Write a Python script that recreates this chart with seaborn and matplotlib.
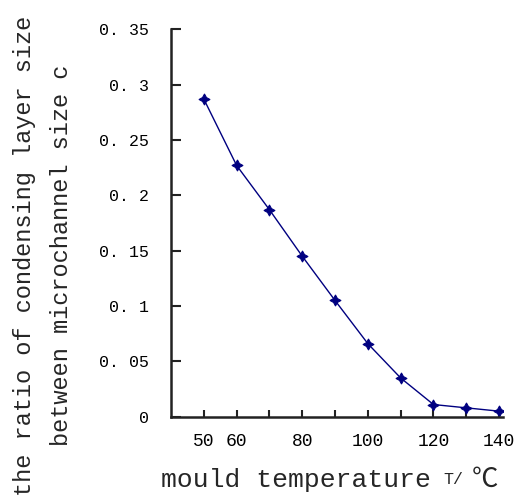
import matplotlib
matplotlib.use("Agg")
import matplotlib.pyplot as plt
import pandas as pd
import seaborn as sns

# mould temperature (°C) and ratio c
temperature = [50, 60, 70, 80, 90, 100, 110, 120, 130, 140]
ratio_c = [0.287, 0.227, 0.187, 0.145, 0.105, 0.066, 0.035, 0.011, 0.008, 0.005]

x_ticks = [50, 60, 70, 80, 90, 100, 110, 120, 130, 140]
x_tick_labels = ["50", "60", "", "80", "", "100", "", "120", "", "140"]
y_ticks = [0, 0.05, 0.1, 0.15, 0.2, 0.25, 0.3, 0.35]
y_tick_labels = ["0", "0. 05", "0. 1", "0. 15", "0. 2", "0. 25", "0. 3", "0. 35"]

sns.set_style("ticks")
plt.rcParams["font.family"] = ["Liberation Mono", "Noto Sans CJK SC"]

df = pd.DataFrame({"T": temperature, "c": ratio_c})

fig = plt.figure(figsize=(5.22, 5.0), dpi=100)
ax = fig.add_axes([0.3276, 0.1666, 0.636, 0.7748])

sns.lineplot(data=df, x="T", y="c", ax=ax, color="#000080", linewidth=1.0,
             marker=(4, 1, 0), markersize=8, markeredgecolor="#000080")

ax.set_xlim(40, 141.2)
ax.set_ylim(0, 0.35)
ax.set_xticks(x_ticks)
ax.set_xticklabels(x_tick_labels, fontsize=13)
ax.set_yticks(y_ticks)
ax.set_yticklabels(y_tick_labels, fontsize=12)
ax.tick_params(axis="y", direction="in", length=7, width=1.5, pad=16, colors="#222222")
ax.tick_params(axis="x", direction="in", length=5, width=1.5, pad=12, colors="#222222")
ax.tick_params(labelcolor="black")

for side in ["top", "right"]:
    ax.spines[side].set_visible(False)
for side in ["left", "bottom"]:
    ax.spines[side].set_linewidth(1.8)
    ax.spines[side].set_color("#222222")

ax.set_ylabel("the ratio of condensing layer size\nbetween microchannel size c",
              fontsize=17, linespacing=1.75, ha="center", va="center")
ax.yaxis.set_label_coords(-0.385, 0.416)

ax.set_xlabel("mould temperature", fontsize=19, ha="left", va="center")
ax.xaxis.set_label_coords(-0.03, -0.163)
ax.text(0.82, -0.163, "T/", transform=ax.transAxes, fontsize=12,
        ha="left", va="center")
ax.text(0.905, -0.163, "℃", transform=ax.transAxes, fontsize=19,
        ha="left", va="center")

fig.savefig("out.png", dpi=100)
